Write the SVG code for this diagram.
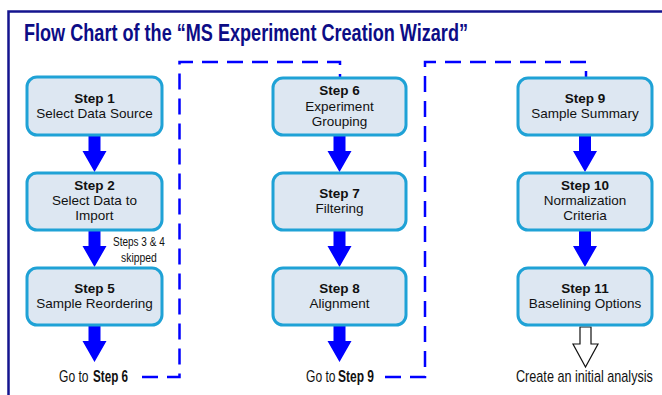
<svg xmlns="http://www.w3.org/2000/svg" xmlns:xlink="http://www.w3.org/1999/xlink" width="662" height="395" viewBox="0 0 662 395">
  <style>
    .frame { fill: none; stroke: #14148f; stroke-width: 2.5; }
    .title { font-family: "Liberation Sans", Arial, sans-serif; font-weight: bold; font-size: 23px; fill: #0c0c86; }
    .box { fill: #dde7f2; stroke: #1fa2d6; stroke-width: 3; }
    .step { font-family: "Liberation Sans", Arial, sans-serif; font-size: 13.5px; fill: #111; text-anchor: middle; }
    .step .b { font-weight: bold; }
    .note { font-family: "Liberation Sans", Arial, sans-serif; fill: #111; }
    .flow { fill: #0000ff; }
    .open { fill: #ffffff; stroke: #111; stroke-width: 1.2; }
    .dash { fill: none; stroke: #0000ff; stroke-width: 2.5; stroke-dasharray: 16 9; }
  </style>
  <defs>
    <path id="blockArrow" d="M-6,0 H6 V16 H12 L0,37 L-12,16 H-6 Z"/>
    <path id="openArrow" d="M-5.5,0 H5.5 V17 H12.5 L0,40 L-12.5,17 H-5.5 Z"/>
  </defs>

  <rect width="662" height="395" fill="#ffffff"/>
  <path class="frame" d="M8.5,400 V11.5 H670"/>
  <text class="title" x="24" y="41" textLength="444" lengthAdjust="spacingAndGlyphs">Flow Chart of the “MS Experiment Creation Wizard”</text>

  <!-- connectors -->
  <g id="connectors">
    <use href="#blockArrow" xlink:href="#blockArrow" class="flow" x="94.5" y="135"/>
    <use href="#blockArrow" xlink:href="#blockArrow" class="flow" x="94.5" y="230"/>
    <use href="#blockArrow" xlink:href="#blockArrow" class="flow" x="94.5" y="325"/>
    <use href="#blockArrow" xlink:href="#blockArrow" class="flow" x="339.5" y="135"/>
    <use href="#blockArrow" xlink:href="#blockArrow" class="flow" x="339.5" y="230"/>
    <use href="#blockArrow" xlink:href="#blockArrow" class="flow" x="339.5" y="325"/>
    <use href="#blockArrow" xlink:href="#blockArrow" class="flow" x="585" y="135"/>
    <use href="#blockArrow" xlink:href="#blockArrow" class="flow" x="585" y="230"/>
    <use href="#openArrow" xlink:href="#openArrow" class="open" x="585.5" y="327"/>
    <path class="dash" d="M142,377 H179.5 V62 H340 V78"/>
    <path class="dash" d="M385,377 H425 V62 H586 V78"/>
    <text class="note" font-size="13" transform="translate(113,246) scale(0.77,1)">Steps 3 &amp; 4</text>
    <text class="note" font-size="13" transform="translate(121,262) scale(0.8,1)">skipped</text>
  </g>

  <g id="step1" class="step">
    <rect class="box" x="27" y="77" width="135" height="58" rx="10"/>
    <text x="94.5" y="103" class="b">Step 1</text>
    <text x="94.5" y="118">Select Data Source</text>
  </g>
  <g id="step2" class="step">
    <rect class="box" x="27" y="173" width="135" height="57" rx="10"/>
    <text x="94.5" y="190" class="b">Step 2</text>
    <text x="94.5" y="205">Select Data to</text>
    <text x="94.5" y="220">Import</text>
  </g>
  <g id="step5" class="step">
    <rect class="box" x="27" y="268" width="135" height="57" rx="10"/>
    <text x="94.5" y="293" class="b">Step 5</text>
    <text x="94.5" y="308">Sample Reordering</text>
  </g>
  <g id="goto6" class="note" font-size="16">
    <text transform="translate(59,382) scale(0.755,1)">Go to</text>
    <text transform="translate(93,382) scale(0.73,1)" font-weight="bold">Step 6</text>
  </g>

  <g id="step6" class="step">
    <rect class="box" x="273" y="78" width="133" height="57" rx="10"/>
    <text x="339.5" y="95" class="b">Step 6</text>
    <text x="339.5" y="111">Experiment</text>
    <text x="339.5" y="126">Grouping</text>
  </g>
  <g id="step7" class="step">
    <rect class="box" x="273" y="173" width="133" height="57" rx="10"/>
    <text x="339.5" y="198" class="b">Step 7</text>
    <text x="339.5" y="213">Filtering</text>
  </g>
  <g id="step8" class="step">
    <rect class="box" x="273" y="268" width="133" height="57" rx="10"/>
    <text x="339.5" y="293" class="b">Step 8</text>
    <text x="339.5" y="308">Alignment</text>
  </g>
  <g id="goto9" class="note" font-size="16">
    <text transform="translate(306,382) scale(0.755,1)">Go to</text>
    <text transform="translate(338,382) scale(0.75,1)" font-weight="bold">Step 9</text>
  </g>

  <g id="step9" class="step">
    <rect class="box" x="518" y="78" width="134" height="57" rx="10"/>
    <text x="585" y="103" class="b">Step 9</text>
    <text x="585" y="118">Sample Summary</text>
  </g>
  <g id="step10" class="step">
    <rect class="box" x="518" y="173" width="134" height="57" rx="10"/>
    <text x="585" y="190" class="b">Step 10</text>
    <text x="585" y="205">Normalization</text>
    <text x="585" y="220">Criteria</text>
  </g>
  <g id="step11" class="step">
    <rect class="box" x="518" y="268" width="134" height="57" rx="10"/>
    <text x="585" y="293" class="b">Step 11</text>
    <text x="585" y="308">Baselining Options</text>
  </g>
  <g id="create">
    <text class="note" font-size="16" transform="translate(516,382) scale(0.79,1)">Create an initial analysis</text>
  </g>
</svg>
